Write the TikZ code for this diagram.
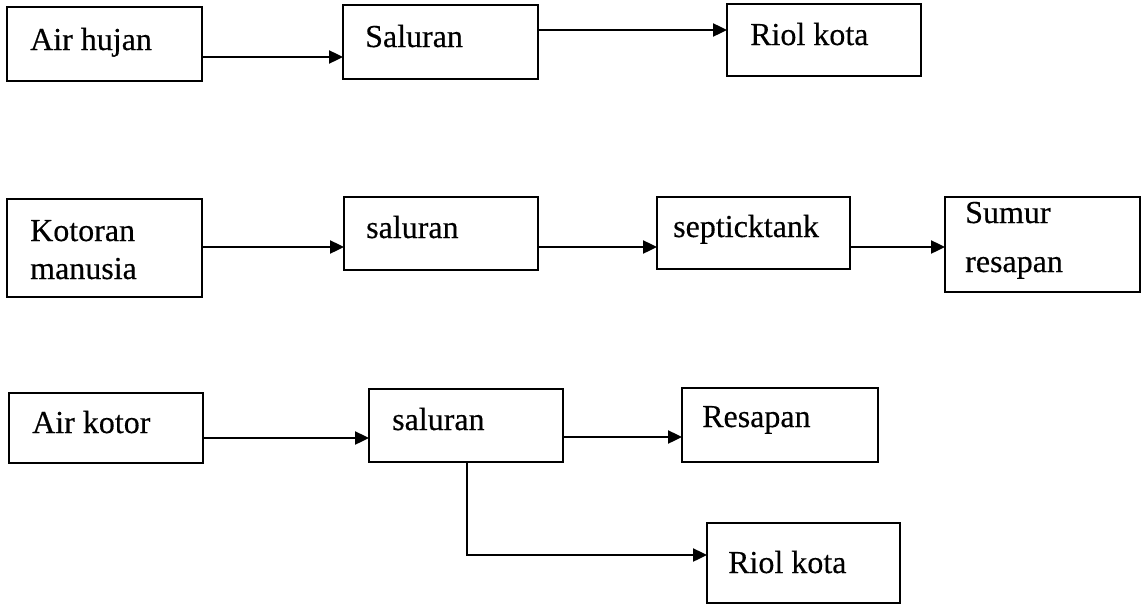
\documentclass[tikz,border=0pt]{standalone}
\usepackage{fontspec}
\setmainfont{Liberation Serif}[FakeBold=0.4]
\usetikzlibrary{arrows.meta}
\begin{document}
\begin{tikzpicture}[x=1pt,y=-1pt,
  box/.style={draw,line width=2.4pt},
  lbl/.style={anchor=base west,inner sep=0pt,font=\fontsize{32}{38}\selectfont},
  flow/.style={line width=2.4pt,-{Triangle[length=14pt,width=13pt]}}]
\useasboundingbox (0,0) rectangle (1146,605);

% boxes (corner coordinates)
\newcommand\boxat[5]{\path[box] (#2,#3) rectangle (#4,#5);
  \coordinate (#1-nw) at (#2,#3); \coordinate (#1-se) at (#4,#5);}

% row 1: rain water
\boxat{a1}{7}{7}{202}{81}
\boxat{a2}{343}{5}{538}{79}
\boxat{a3}{727}{4}{921}{76}
\node[lbl] (ta1) at (30,50) {Air hujan};
\node[lbl] (ta2) at (365,47) {Saluran};
\node[lbl] (ta3) at (750,45) {Riol kota};
\draw[flow] (a1-se |- 0,57) -- (a2-nw |- 0,57);
\draw[flow] (a2-se |- 0,30) -- (a3-nw |- 0,30);

% row 2: human waste
\boxat{b1}{7}{199}{202}{297}
\boxat{b2}{344}{197}{538}{270}
\boxat{b3}{657}{197}{850}{269}
\boxat{b4}{945}{197}{1140}{292}
\node[lbl] (tb1) at (30,241) {Kotoran};
\node[lbl] (tb1b) at (30,279) {manusia};
\node[lbl] (tb2) at (366,238) {saluran};
\node[lbl] (tb3) at (673,237) {septicktank};
\node[lbl] (tb4) at (965,223) {Sumur};
\node[lbl] (tb4b) at (965,272) {resapan};
\draw[flow] (b1-se |- 0,247) -- (b2-nw |- 0,247);
\draw[flow] (b2-se |- 0,247) -- (b3-nw |- 0,247);
\draw[flow] (b3-se |- 0,247) -- (b4-nw |- 0,247);

% row 3: waste water
\boxat{c1}{9}{393}{203}{463}
\boxat{c2}{369}{389}{563}{462}
\boxat{c3}{682}{388}{878}{462}
\boxat{c4}{707}{523}{900}{603}
\node[lbl] (tc1) at (32,433) {Air kotor};
\node[lbl] (tc2) at (392,430) {saluran};
\node[lbl] (tc3) at (702,427) {Resapan};
\node[lbl] (tc4) at (728,573) {Riol kota};
\draw[flow] (c1-se |- 0,438) -- (c2-nw |- 0,438);
\draw[flow] (c2-se |- 0,437) -- (c3-nw |- 0,437);
\coordinate (bend) at (467,555);
\draw[flow] (bend |- c2-se) -- (bend) -- (c4-nw |- bend);
\end{tikzpicture}
\end{document}
